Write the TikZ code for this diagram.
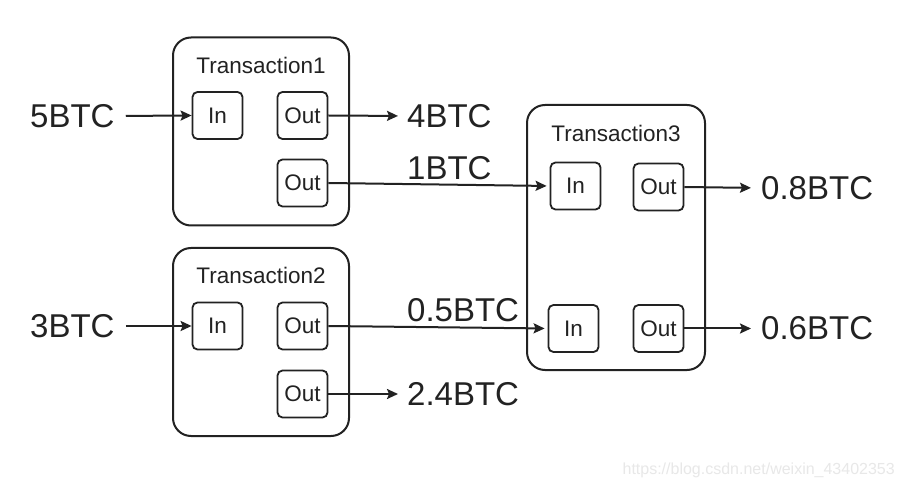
\documentclass[tikz,border=0pt]{standalone}
\usepackage{fontspec}
\setmainfont{Liberation Sans}
\usetikzlibrary{arrows.meta}
\definecolor{ink}{HTML}{222222}
\tikzset{
  txbox/.style={draw=ink, line width=2pt, rounded corners=18pt, minimum width=176pt, minimum height=188pt, inner sep=0pt},
  port/.style={draw=ink, line width=1.8pt, rounded corners=5pt, minimum width=50pt, minimum height=47pt, inner sep=0pt, font=\fontsize{22.5}{22.5}\selectfont, text=ink},
  title/.style={font=\fontsize{22.5}{22.5}\selectfont, text=ink, inner sep=0pt},
  amount/.style={font=\fontsize{33}{33}\selectfont, text=ink, inner sep=0pt, anchor=west},
  flow/.style={draw=ink, line width=2pt, -{Stealth[length=11pt,width=10pt,inset=2pt]}},
}
\begin{document}
\begin{tikzpicture}[x=1pt,y=-1pt]
\fill[white] (0,0) rectangle (905,494);
\useasboundingbox (0,0) rectangle (905,494);
% boxes
\node[txbox] (t1) at (261,131.5) {};
\node[txbox] (t2) at (261,342) {};
\node[txbox, minimum width=178pt, minimum height=265pt] (t3) at (616,237.5) {};
\node[title] (t1t) at (261,65) {Transaction1};
\node[title] (t2t) at (261,275) {Transaction2};
\node[title] (t3t) at (616,133) {Transaction3};
% ports
\node[port] (t1in) at (217.5,115.5) {In};
\node[port] (t1o1) at (302.5,115.5) {Out};
\node[port] (t1o2) at (302.5,183) {Out};
\node[port] (t2in) at (217.5,326) {In};
\node[port] (t2o1) at (302.5,326) {Out};
\node[port] (t2o2) at (302.5,394) {Out};
\node[port] (t3i1) at (575.5,186) {In};
\node[port] (t3o1) at (658.5,187) {Out};
\node[port] (t3i2) at (573.5,328.5) {In};
\node[port] (t3o2) at (658.5,328.5) {Out};
% amounts
\node[amount] (a5) at (30,116) {5BTC};
\node[amount] (a3) at (30,326) {3BTC};
\node[amount] (a4) at (407,116) {4BTC};
\node[amount] (a24) at (407,394) {2.4BTC};
\node[amount] (a08) at (761,188) {0.8BTC};
\node[amount] (a06) at (761,328.5) {0.6BTC};
\node[amount] (a1) at (407,168) {1BTC};
\node[amount] (a05) at (407,310) {0.5BTC};
% connectors
\draw[flow, shorten <=11pt] (a5.east) -- (t1in.west);
\draw[flow, shorten <=11pt] (a3.east) -- (t2in.west);
\draw[flow, shorten >=9pt] (t1o1.east) -- (a4.west);
\draw[flow, shorten >=9pt] (t2o2.east) -- (a24.west);
\draw[flow, shorten >=10pt] (t3o1.east) -- (a08.west);
\draw[flow, shorten >=10pt] (t3o2.east) -- (a06.west);
\draw[flow, shorten >=3pt] (t1o2.east) -- (t3i1.west);
\draw[flow, shorten >=3pt] (t2o1.east) -- (t3i2.west);
% watermark
\node[anchor=east, inner sep=0pt, text=black!9, font=\fontsize{16}{16}\selectfont] (wm) at (895,470) {https://blog.csdn.net/weixin\_43402353};
\end{tikzpicture}
\end{document}
